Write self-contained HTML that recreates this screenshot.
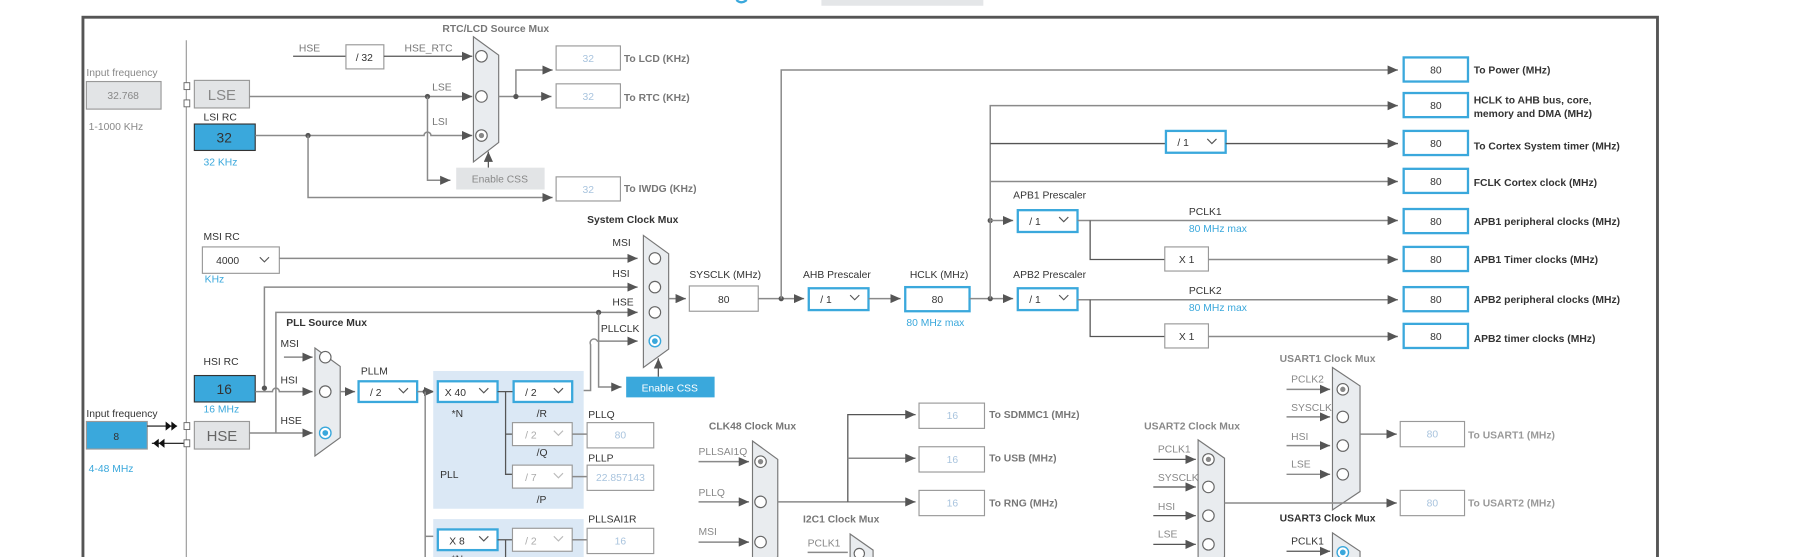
<!DOCTYPE html>
<html><head><meta charset="utf-8"><style>
html,body{margin:0;padding:0;background:#fff;width:1799px;height:557px;overflow:hidden}
svg{display:block;fill:#666}
text{font-family:"Liberation Sans",sans-serif;font-size:9px}
.b{font-weight:bold}
.d{fill:#333}
.bl{fill:#3aa8dc}
.lt{fill:#a9c4de}
.ln{stroke:#8a8a8a;stroke-width:1.3;fill:none}
.ld{stroke:#555;stroke-width:1.1;fill:none}
.bx{fill:#fff;stroke:#999;stroke-width:1}
.bb{fill:#fff;stroke:#3aa8dc;stroke-width:2}
.mx{fill:#e9ecef;stroke:#777;stroke-width:1}
.c{fill:#fff;stroke:#666;stroke-width:1}
.cs{fill:#fff;stroke:#3aa8dc;stroke-width:1.2}
.dot{fill:#555}
</style></head><body>
<svg width="1799" height="557" viewBox="0 0 1566 485" xmlns="http://www.w3.org/2000/svg">
<defs><marker id="a" markerWidth="9" markerHeight="8" refX="9" refY="4" orient="auto" markerUnits="userSpaceOnUse"><path d="M0,0 L9,4 L0,8z" fill="#555"/></marker></defs>
<rect x="715" y="0" width="141" height="5" fill="#e4e6e8"/>
<path d="M641,0 Q645,4 650,0" stroke="#3aa8dc" stroke-width="2" fill="none"/>
<rect x="72" y="15" width="1371" height="480" fill="none" stroke="#555" stroke-width="2.5"/>
<line x1="162" y1="35" x2="162" y2="485" stroke="#999" stroke-width="1"/>

<!-- LSE / LSI -->
<text x="75" y="66" fill="#888">Input frequency</text>
<rect x="75" y="71" width="65" height="24" fill="#e2e4e6" stroke="#999"/>
<text x="107" y="86" text-anchor="middle" fill="#888">32.768</text>
<text x="77" y="113" fill="#888">1-1000 KHz</text>
<rect x="160" y="72" width="5" height="6" fill="#fff" stroke="#666" stroke-width=".8"/>
<rect x="160" y="87" width="5" height="6" fill="#fff" stroke="#666" stroke-width=".8"/>
<rect x="169" y="70" width="48" height="24" fill="#e2e4e6" stroke="#999"/>
<text x="193" y="87" text-anchor="middle" style="font-size:13px" fill="#888">LSE</text>
<text x="177" y="105" class="d">LSI RC</text>
<rect x="169" y="108" width="53" height="23" fill="#3aa8dc" stroke="#333" stroke-width="1"/>
<text x="195" y="124" text-anchor="middle" style="font-size:12px" class="d">32</text>
<text x="177" y="144" class="bl">32 KHz</text>

<text x="385" y="28" class="b" fill="#777">RTC/LCD Source Mux</text>
<text x="260" y="45" fill="#777">HSE</text>
<line x1="255" y1="49" x2="301" y2="49" class="ld"/>
<rect x="301" y="39" width="33" height="21" class="bx"/>
<text x="317" y="53" text-anchor="middle" class="d">/ 32</text>
<text x="352" y="45" fill="#777">HSE_RTC</text>
<line x1="334" y1="49" x2="411" y2="49" class="ld" marker-end="url(#a)"/>
<line x1="217" y1="84" x2="411" y2="84" class="ln" marker-end="url(#a)"/>
<text x="376" y="79" fill="#777">LSE</text>
<circle cx="372" cy="84" r="2.3" class="dot"/>
<path d="M222,118 H369 A3,3 0 0 1 375,118 H411" class="ln" marker-end="url(#a)"/>
<text x="376" y="109" fill="#777">LSI</text>
<circle cx="268" cy="118" r="2.3" class="dot"/>
<path d="M372,84 V157 H392" class="ln" marker-end="url(#a)"/>
<path d="M268,118 V172 H481" class="ln" marker-end="url(#a)"/>
<path d="M412,32 L434,48 V124 L412,141Z" class="mx"/>
<circle cx="419" cy="49" r="5" class="c"/><circle cx="419" cy="84" r="5" class="c"/><circle cx="419" cy="118" r="5" class="c"/><circle cx="419" cy="118" r="2.3" fill="#888"/>
<line x1="425" y1="146" x2="425" y2="132" class="ld" marker-end="url(#a)"/>
<rect x="397" y="146" width="77" height="19" fill="#e2e4e6"/>
<text x="435" y="159" text-anchor="middle" fill="#888">Enable CSS</text>
<path d="M434,84 H480" class="ln" marker-end="url(#a)"/>
<path d="M449,84 V61 H481" class="ln" marker-end="url(#a)"/>
<circle cx="449" cy="84" r="2.3" class="dot"/>
<rect x="484" y="40" width="56" height="21" class="bx"/><text x="512" y="54" text-anchor="middle" class="lt">32</text><text x="543" y="54" class="b" fill="#777">To LCD (KHz)</text>
<rect x="484" y="73" width="56" height="21" class="bx"/><text x="512" y="87" text-anchor="middle" class="lt">32</text><text x="543" y="88" class="b" fill="#777">To RTC (KHz)</text>
<rect x="484" y="154" width="56" height="21" class="bx"/><text x="512" y="168" text-anchor="middle" class="lt">32</text><text x="543" y="167" class="b" fill="#777">To IWDG (KHz)</text>

<!-- MSI -->
<text x="177" y="209" class="d">MSI RC</text>
<rect x="176" y="215" width="67" height="23" class="bx"/>
<text x="188" y="230" class="d">4000</text>
<path d="M226,224 l4,4 l4,-4" stroke="#555" fill="none"/>
<text x="178" y="246" class="bl">KHz</text>
<line x1="243" y1="225" x2="555" y2="225" class="ln" marker-end="url(#a)"/>

<!-- system clock mux -->
<text x="511" y="194" class="b d">System Clock Mux</text>
<text x="533" y="214" class="d">MSI</text>
<text x="533" y="241" class="d">HSI</text>
<text x="533" y="266" class="d">HSE</text>
<text x="523" y="289" class="d">PLLCLK</text>
<path d="M230,338 V250 H555" class="ln" marker-end="url(#a)"/>
<path d="M240,377 V272 H555" class="ln" marker-end="url(#a)"/>
<circle cx="521" cy="272" r="2.3" class="dot"/>
<path d="M521,272 V337 H541" class="ln" marker-end="url(#a)"/>
<path d="M498,340 H514 V300 A3,3 0 0 1 520,297 H555" class="ln" marker-end="url(#a)"/>
<path d="M560,205 L582,221 V304 L560,320Z" class="mx"/>
<circle cx="570" cy="225" r="5" class="c"/><circle cx="570" cy="250" r="5" class="c"/><circle cx="570" cy="272" r="5" class="c"/><circle cx="570" cy="297" r="5" class="cs"/><circle cx="570" cy="297" r="2.5" fill="#3aa8dc"/>
<rect x="545" y="328" width="77" height="18" fill="#3aa8dc"/>
<text x="583" y="341" text-anchor="middle" fill="#fff">Enable CSS</text>
<line x1="573" y1="328" x2="573" y2="312" class="ld" marker-end="url(#a)"/>
<line x1="582" y1="260" x2="597" y2="260" class="ln" marker-end="url(#a)"/>
<text x="600" y="242" class="d">SYSCLK (MHz)</text>
<rect x="600" y="249" width="60" height="22" class="bx"/><text x="630" y="264" text-anchor="middle" class="d">80</text>
<line x1="660" y1="260" x2="700" y2="260" class="ln" marker-end="url(#a)"/>
<circle cx="680" cy="260" r="2.3" class="dot"/>
<path d="M680,260 V61 H1217" class="ln" marker-end="url(#a)"/>
<text x="699" y="242" class="d">AHB Prescaler</text>
<rect x="704" y="251" width="52" height="19" class="bb"/><text x="714" y="264" class="d">/ 1</text><path d="M740,257 l4,4 l4,-4" stroke="#555" fill="none"/>
<line x1="756" y1="260" x2="784" y2="260" class="ln" marker-end="url(#a)"/>
<text x="792" y="242" class="d">HCLK (MHz)</text>
<rect x="788" y="250" width="56" height="21" class="bb"/><text x="816" y="264" text-anchor="middle" class="d">80</text>
<text x="789" y="284" class="bl">80 MHz max</text>
<line x1="844" y1="260" x2="882" y2="260" class="ln" marker-end="url(#a)"/>
<circle cx="862" cy="260" r="2.3" class="dot"/><circle cx="862" cy="192" r="2.3" class="dot"/>
<path d="M862,260 V92 H1217" class="ln" marker-end="url(#a)"/>
<line x1="862" y1="125" x2="1015" y2="125" class="ld"/>
<rect x="1015" y="114" width="52" height="19" class="bb"/><text x="1025" y="127" class="d">/ 1</text><path d="M1051,121 l4,4 l4,-4" stroke="#555" fill="none"/>
<line x1="1067" y1="125" x2="1217" y2="125" class="ld" marker-end="url(#a)"/>
<line x1="862" y1="158" x2="1217" y2="158" class="ln" marker-end="url(#a)"/>
<line x1="862" y1="192" x2="882" y2="192" class="ln" marker-end="url(#a)"/>
<text x="882" y="173" class="d">APB1 Prescaler</text>
<rect x="886" y="183" width="52" height="19" class="bb"/><text x="896" y="196" class="d">/ 1</text><path d="M922,189 l4,4 l4,-4" stroke="#555" fill="none"/>
<line x1="938" y1="192" x2="1217" y2="192" class="ln" marker-end="url(#a)"/>
<text x="1035" y="187" class="d">PCLK1</text><text x="1035" y="202" class="bl">80 MHz max</text>
<path d="M949,192 V226 H1014" class="ld"/>
<rect x="1014" y="215" width="38" height="21" class="bx"/><text x="1033" y="229" text-anchor="middle" class="d">X 1</text>
<line x1="1052" y1="226" x2="1217" y2="226" class="ln" marker-end="url(#a)"/>
<text x="882" y="242" class="d">APB2 Prescaler</text>
<rect x="886" y="251" width="52" height="19" class="bb"/><text x="896" y="264" class="d">/ 1</text><path d="M922,257 l4,4 l4,-4" stroke="#555" fill="none"/>
<line x1="938" y1="261" x2="1217" y2="261" class="ln" marker-end="url(#a)"/>
<text x="1035" y="256" class="d">PCLK2</text><text x="1035" y="271" class="bl">80 MHz max</text>
<path d="M949,261 V293 H1014" class="ld"/>
<rect x="1014" y="282" width="38" height="21" class="bx"/><text x="1033" y="296" text-anchor="middle" class="d">X 1</text>
<line x1="1052" y1="293" x2="1217" y2="293" class="ln" marker-end="url(#a)"/>

<!-- right outputs -->
<g>
<rect x="1222" y="50" width="56" height="21" class="bb"/><text x="1250" y="64" text-anchor="middle" class="d">80</text><text x="1283" y="64" class="b d">To Power (MHz)</text>
<rect x="1222" y="81" width="56" height="21" class="bb"/><text x="1250" y="95" text-anchor="middle" class="d">80</text><text x="1283" y="90" class="b d">HCLK to AHB bus, core,</text><text x="1283" y="102" class="b d">memory and DMA (MHz)</text>
<rect x="1222" y="114" width="56" height="21" class="bb"/><text x="1250" y="128" text-anchor="middle" class="d">80</text><text x="1283" y="130" class="b d">To Cortex System timer (MHz)</text>
<rect x="1222" y="147" width="56" height="21" class="bb"/><text x="1250" y="161" text-anchor="middle" class="d">80</text><text x="1283" y="162" class="b d">FCLK Cortex clock (MHz)</text>
<rect x="1222" y="182" width="56" height="21" class="bb"/><text x="1250" y="196" text-anchor="middle" class="d">80</text><text x="1283" y="196" class="b d">APB1 peripheral clocks (MHz)</text>
<rect x="1222" y="215" width="56" height="21" class="bb"/><text x="1250" y="229" text-anchor="middle" class="d">80</text><text x="1283" y="229" class="b d">APB1 Timer clocks (MHz)</text>
<rect x="1222" y="250" width="56" height="21" class="bb"/><text x="1250" y="264" text-anchor="middle" class="d">80</text><text x="1283" y="264" class="b d">APB2 peripheral clocks (MHz)</text>
<rect x="1222" y="282" width="56" height="21" class="bb"/><text x="1250" y="296" text-anchor="middle" class="d">80</text><text x="1283" y="298" class="b d">APB2 timer clocks (MHz)</text>
</g>

<!-- HSI / HSE / PLL source -->
<text x="177" y="318" class="d">HSI RC</text>
<rect x="169" y="327" width="53" height="23" fill="#3aa8dc" stroke="#333"/>
<text x="195" y="343" text-anchor="middle" style="font-size:12px" class="d">16</text>
<text x="177" y="359" class="bl">16 MHz</text>
<circle cx="230" cy="338" r="2.3" class="dot"/>
<text x="75" y="363" class="d">Input frequency</text>
<rect x="75" y="367" width="53" height="24" fill="#3aa8dc" stroke="#999"/>
<text x="101" y="383" text-anchor="middle" class="d">8</text>
<text x="77" y="411" class="bl">4-48 MHz</text>
<line x1="128" y1="371" x2="154" y2="371" stroke="#111"/><path d="M144,367 l5,4 l-5,4z M149,367 l5,4 l-5,4z" fill="#111"/>
<line x1="132" y1="386" x2="160" y2="386" stroke="#111"/><path d="M138,382 l-5,4 l5,4z M143,382 l-5,4 l5,4z" fill="#111"/>
<rect x="160" y="368" width="5" height="6" fill="#fff" stroke="#666" stroke-width=".8"/>
<rect x="160" y="383" width="5" height="6" fill="#fff" stroke="#666" stroke-width=".8"/>
<rect x="169" y="367" width="48" height="24" fill="#e2e4e6" stroke="#999"/>
<text x="193" y="384" text-anchor="middle" style="font-size:13px" fill="#666">HSE</text>
<text x="249" y="284" class="b d">PLL Source Mux</text>
<text x="244" y="302" class="d">MSI</text><text x="244" y="334" class="d">HSI</text><text x="244" y="369" class="d">HSE</text>
<line x1="247" y1="311" x2="272" y2="311" class="ln" marker-end="url(#a)"/>
<path d="M222,341 H237 A3,3 0 0 1 243,341 H272" class="ln" marker-end="url(#a)"/>
<line x1="217" y1="377" x2="272" y2="377" class="ln" marker-end="url(#a)"/>
<path d="M274,303 L296,319 V381 L274,397Z" class="mx"/>
<circle cx="283" cy="311" r="5" class="c"/><circle cx="283" cy="341" r="5" class="c"/><circle cx="283" cy="377" r="5" class="cs"/><circle cx="283" cy="377" r="2.5" fill="#3aa8dc"/>
<line x1="296" y1="341" x2="309" y2="341" class="ln" marker-end="url(#a)"/>
<text x="314" y="326" class="d">PLLM</text>
<rect x="312" y="332" width="51" height="18" class="bb"/><text x="322" y="345" class="d">/ 2</text><path d="M347,338 l4,4 l4,-4" stroke="#555" fill="none"/>
<line x1="363" y1="341" x2="378" y2="341" class="ln" marker-end="url(#a)"/>
<circle cx="370" cy="341" r="2.3" class="dot"/>
<path d="M370,341 V485" class="ln"/><line x1="370" y1="467" x2="380" y2="467" class="ln"/>
<rect x="377" y="323" width="131" height="120" fill="#dbe8f5"/>
<rect x="377" y="452" width="131" height="40" fill="#dbe8f5"/>
<rect x="381" y="332" width="52" height="18" class="bb"/><text x="387" y="345" class="d">X 40</text><path d="M417,338 l4,4 l4,-4" stroke="#555" fill="none"/>
<text x="393" y="363" class="d">*N</text>
<line x1="433" y1="341" x2="446" y2="341" class="ld"/>
<path d="M440,341 V413 H446 M440,378 H446" class="ld"/>
<rect x="447" y="332" width="51" height="18" class="bb"/><text x="457" y="345" class="d">/ 2</text><path d="M482,338 l4,4 l4,-4" stroke="#555" fill="none"/>
<text x="467" y="363" class="d">/R</text>
<rect x="446" y="368" width="52" height="20" class="bx"/><text x="457" y="382" fill="#aaa">/ 2</text><path d="M482,375 l4,4 l4,-4" stroke="#bbb" fill="none"/>
<text x="467" y="397" class="d">/Q</text>
<rect x="446" y="405" width="52" height="20" class="bx"/><text x="457" y="419" fill="#aaa">/ 7</text><path d="M482,412 l4,4 l4,-4" stroke="#bbb" fill="none"/>
<text x="467" y="438" class="d">/P</text>
<text x="383" y="416" class="d">PLL</text>
<line x1="498" y1="378" x2="511" y2="378" class="ln"/><line x1="498" y1="415" x2="511" y2="415" class="ln"/>
<text x="512" y="364" class="d">PLLQ</text>
<rect x="511" y="368" width="58" height="22" class="bx"/><text x="540" y="382" text-anchor="middle" class="lt">80</text>
<text x="512" y="402" class="d">PLLP</text>
<rect x="511" y="405" width="58" height="22" class="bx"/><text x="540" y="419" text-anchor="middle" class="lt">22.857143</text>
<rect x="381" y="461" width="52" height="18" class="bb"/><text x="391" y="474" class="d">X 8</text><path d="M417,467 l4,4 l4,-4" stroke="#555" fill="none"/>
<line x1="433" y1="470" x2="446" y2="470" class="ld"/><line x1="440" y1="470" x2="440" y2="485" class="ld"/>
<rect x="446" y="460" width="52" height="20" class="bx"/><text x="457" y="474" fill="#aaa">/ 2</text><path d="M482,467 l4,4 l4,-4" stroke="#bbb" fill="none"/>
<text x="393" y="490" class="d">*N</text>
<line x1="498" y1="470" x2="511" y2="470" class="ln"/>
<text x="512" y="455" class="d">PLLSAI1R</text>
<rect x="511" y="460" width="58" height="22" class="bx"/><text x="540" y="474" text-anchor="middle" class="lt">16</text>

<!-- CLK48 -->
<text x="617" y="374" class="b" fill="#777">CLK48 Clock Mux</text>
<text x="608" y="396" fill="#888">PLLSAI1Q</text><text x="608" y="432" fill="#888">PLLQ</text><text x="608" y="466" fill="#888">MSI</text>
<line x1="608" y1="402" x2="652" y2="402" class="ln" marker-end="url(#a)"/>
<line x1="608" y1="437" x2="652" y2="437" class="ln" marker-end="url(#a)"/>
<line x1="608" y1="472" x2="652" y2="472" class="ln" marker-end="url(#a)"/>
<path d="M655,384 L677,400 V485 L655,495Z" class="mx"/>
<circle cx="662" cy="402" r="5" class="c"/><circle cx="662" cy="402" r="2.3" fill="#888"/><circle cx="662" cy="437" r="5" class="c"/><circle cx="662" cy="472" r="5" class="c"/>
<line x1="677" y1="437" x2="797" y2="437" class="ln" marker-end="url(#a)"/>
<path d="M738,437 V361 H797" class="ld" marker-end="url(#a)"/>
<line x1="738" y1="399" x2="797" y2="399" class="ln" marker-end="url(#a)"/>
<rect x="800" y="351" width="57" height="22" class="bx"/><text x="829" y="365" text-anchor="middle" class="lt">16</text><text x="861" y="364" class="b" fill="#777">To SDMMC1 (MHz)</text>
<rect x="800" y="389" width="57" height="22" class="bx"/><text x="829" y="403" text-anchor="middle" class="lt">16</text><text x="861" y="402" class="b" fill="#777">To USB (MHz)</text>
<rect x="800" y="427" width="57" height="22" class="bx"/><text x="829" y="441" text-anchor="middle" class="lt">16</text><text x="861" y="441" class="b" fill="#777">To RNG (MHz)</text>
<text x="699" y="455" class="b" fill="#777">I2C1 Clock Mux</text>
<text x="703" y="476" fill="#888">PCLK1</text>
<line x1="703" y1="481" x2="738" y2="481" class="ln"/>
<path d="M740,465 L760,479 V495 L740,495Z" class="mx"/>
<circle cx="748" cy="482" r="4.5" class="c"/>

<!-- USART -->
<text x="1114" y="315" class="b" fill="#888">USART1 Clock Mux</text>
<text x="1124" y="333" fill="#888">PCLK2</text><text x="1124" y="358" fill="#888">SYSCLK</text><text x="1124" y="383" fill="#888">HSI</text><text x="1124" y="407" fill="#888">LSE</text>
<line x1="1120" y1="339" x2="1158" y2="339" class="ln" marker-end="url(#a)"/>
<line x1="1120" y1="363" x2="1158" y2="363" class="ln" marker-end="url(#a)"/>
<line x1="1120" y1="388" x2="1158" y2="388" class="ln" marker-end="url(#a)"/>
<line x1="1120" y1="413" x2="1158" y2="413" class="ln" marker-end="url(#a)"/>
<path d="M1160,320 L1184,336 V428 L1160,444Z" class="mx"/>
<circle cx="1169" cy="339" r="5" class="c"/><circle cx="1169" cy="339" r="2.3" fill="#888"/><circle cx="1169" cy="363" r="5" class="c"/><circle cx="1169" cy="388" r="5" class="c"/><circle cx="1169" cy="413" r="5" class="c"/>
<line x1="1184" y1="378" x2="1216" y2="378" class="ln" marker-end="url(#a)"/>
<rect x="1219" y="367" width="56" height="22" class="bx"/><text x="1247" y="381" text-anchor="middle" class="lt">80</text><text x="1278" y="382" class="b" fill="#999">To USART1 (MHz)</text>
<text x="996" y="374" class="b" fill="#888">USART2 Clock Mux</text>
<text x="1008" y="394" fill="#888">PCLK1</text><text x="1008" y="419" fill="#888">SYSCLK</text><text x="1008" y="444" fill="#888">HSI</text><text x="1008" y="468" fill="#888">LSE</text>
<line x1="1004" y1="400" x2="1041" y2="400" class="ld" marker-end="url(#a)"/>
<line x1="1004" y1="424" x2="1041" y2="424" class="ld" marker-end="url(#a)"/>
<line x1="1004" y1="449" x2="1041" y2="449" class="ld" marker-end="url(#a)"/>
<line x1="1004" y1="474" x2="1041" y2="474" class="ld" marker-end="url(#a)"/>
<path d="M1043,383 L1066,399 V485 L1043,495Z" class="mx"/>
<circle cx="1052" cy="400" r="5" class="c"/><circle cx="1052" cy="400" r="2.3" fill="#888"/><circle cx="1052" cy="424" r="5" class="c"/><circle cx="1052" cy="449" r="5" class="c"/><circle cx="1052" cy="474" r="5" class="c"/>
<line x1="1066" y1="438" x2="1216" y2="438" class="ln" marker-end="url(#a)"/>
<rect x="1219" y="427" width="56" height="22" class="bx"/><text x="1247" y="441" text-anchor="middle" class="lt">80</text><text x="1278" y="441" class="b" fill="#999">To USART2 (MHz)</text>
<text x="1114" y="454" class="b d">USART3 Clock Mux</text>
<text x="1124" y="474" class="d">PCLK1</text>
<line x1="1120" y1="480" x2="1158" y2="480" class="ld" marker-end="url(#a)"/>
<path d="M1160,464 L1184,480 V495 L1160,495Z" class="mx"/>
<circle cx="1169" cy="481" r="5" class="cs"/><circle cx="1169" cy="481" r="2.5" fill="#3aa8dc"/>
</svg>
</body></html>
